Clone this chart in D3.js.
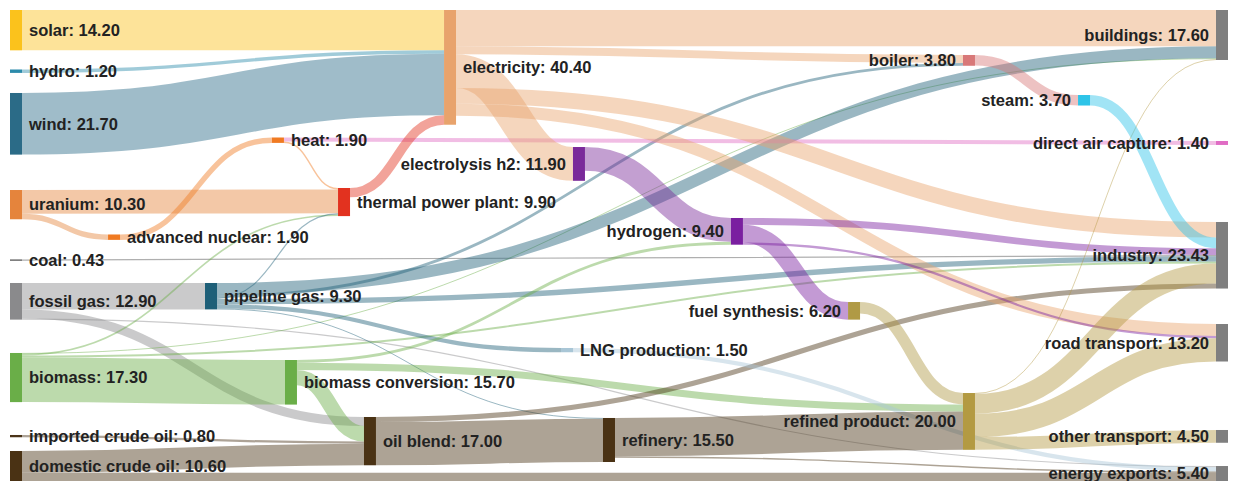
<!DOCTYPE html>
<html><head><meta charset="utf-8">
<script src="https://cdn.jsdelivr.net/npm/d3@7"></script>
<style>body{margin:0;background:#fff;} svg{display:block;}</style>
</head><body>
<svg id="chart" width="1233" height="481"></svg>
<script>
// ---------- data ----------
const nodeNames = ["solar","hydro","wind","uranium","coal","fossil gas","biomass","imported crude oil","domestic crude oil",
  "advanced nuclear","pipeline gas","heat","biomass conversion","thermal power plant","oil blend","electricity",
  "electrolysis h2","LNG production","refinery","hydrogen","fuel synthesis","boiler","refined product","steam",
  "buildings","direct air capture","industry","road transport","other transport","energy exports"];

const linkSource = ["solar","hydro","wind","uranium","uranium","coal","fossil gas","fossil gas","fossil gas",
  "biomass","biomass","biomass","biomass","imported crude oil","domestic crude oil","domestic crude oil",
  "advanced nuclear","pipeline gas","pipeline gas","pipeline gas","pipeline gas","pipeline gas","pipeline gas",
  "heat","heat","biomass conversion","biomass conversion","biomass conversion","thermal power plant",
  "oil blend","oil blend","electricity","electricity","electricity","electricity","electricity",
  "electrolysis h2","LNG production","refinery","refinery","hydrogen","hydrogen","hydrogen","fuel synthesis",
  "boiler","refined product","refined product","refined product","refined product","steam"];
const linkTarget = ["electricity","electricity","electricity","thermal power plant","advanced nuclear","industry",
  "pipeline gas","oil blend","energy exports",
  "biomass conversion","thermal power plant","buildings","industry","oil blend","oil blend","energy exports",
  "heat","buildings","boiler","thermal power plant","industry","LNG production","refinery",
  "direct air capture","thermal power plant","hydrogen","refined product","oil blend","electricity",
  "refinery","industry","buildings","boiler","electrolysis h2","industry","road transport",
  "hydrogen","energy exports","refined product","energy exports","industry","fuel synthesis","road transport","refined product",
  "steam","buildings","industry","road transport","other transport","industry"];
const linkValue = [14.2,1.2,21.7,8.4,1.9,0.43,9.3,3.2,0.4,
  15.7,0.6,0.3,0.7,0.8,7.6,3.0,
  1.9,4.2,1.0,0.4,1.9,1.5,0.3,
  1.4,0.5,1.0,2.5,5.4,3.3,
  15.2,1.8,12.8,2.8,11.9,5.5,4.2,
  8.4,1.5,13.5,0.5,2.4,6.2,0.8,4.0,
  3.7,0.3,7.0,8.2,4.5,3.7];

// ---------- layout (node placement, fractions of the plot area) ----------
const layoutX = [0,0,0,0,0,0,0,0,0,
  0.0813,0.1617,0.2172,0.2280,0.2720,0.2935,0.3599,
  0.4668,0.4569,0.4917,0.5978,0.6949,0.7902,0.7902,0.8856,
  1,1,1,1,1,1];
const layoutY = [0,0.1263,0.1762,0.3822,0.5297,0.5796,0.7282,0.9023,0.9363,
  0.4766,0.5796,0.2707,0.7431,0.3779,0.8641,0,
  0.2909,0.7176,0.8662,0.4416,0.6200,0.0955,0.8132,0.1805,
  0,0.2781,0.4501,0.6667,0.8917,0.9682];
const labelLeft = new Set(["electrolysis h2","hydrogen","fuel synthesis","boiler","refined product","steam",
  "buildings","direct air capture","industry","road transport","other transport","energy exports"]);

// ---------- styles ----------
const nodeColor = {
  "solar":"#fbc21c","hydro":"#2c8bab","wind":"#2b6b87","uranium":"#e5843c","coal":"#4d4d4d",
  "fossil gas":"#8a8a8c","biomass":"#6aae48","imported crude oil":"#4a3318","domestic crude oil":"#4a3214",
  "advanced nuclear":"#f07a22","pipeline gas":"#1e5f78","heat":"#f07a22","biomass conversion":"#6aae48",
  "thermal power plant":"#e2321f","oil blend":"#4a3214","electricity":"#e8a36c","electrolysis h2":"#7a2a9a",
  "LNG production":"#a9c6d6","refinery":"#4a3214","hydrogen":"#7a1fa0","fuel synthesis":"#b09a45",
  "boiler":"#d87878","refined product":"#b39a42","steam":"#2ec4e8",
  "buildings":"#7f7f7f","direct air capture":"#e06cc4","industry":"#7f7f7f","road transport":"#7f7f7f",
  "other transport":"#7f7f7f","energy exports":"#7f7f7f"
};
const linkColorFromTarget = new Set(["direct air capture"]);

// ---------- build ----------
const svg = d3.select("#chart");
const nodeW = 12;
const xS = d3.scaleLinear().domain([0,1]).range([10, 1216]);
const yS = d3.scaleLinear().domain([0,1]).range([10, 481]);
const vS = d3.scaleLinear().domain([0,1]).range([0, 2.84]);

const nodes = nodeNames.map((name,i)=>({name, i, sourceLinks:[], targetLinks:[]}));
const byName = new Map(nodes.map(n=>[n.name,n]));
const links = linkValue.map((value,i)=>{
  const l = {source:byName.get(linkSource[i]), target:byName.get(linkTarget[i]), value};
  l.source.sourceLinks.push(l); l.target.targetLinks.push(l);
  return l;
});
nodes.forEach(n=>{
  n.value = Math.max(d3.sum(n.sourceLinks,l=>l.value), d3.sum(n.targetLinks,l=>l.value));
  n.x0 = xS(layoutX[n.i]); n.x1 = n.x0 + nodeW;
  n.y0 = yS(layoutY[n.i]); n.y1 = n.y0 + vS(n.value);
});
nodes.forEach(n=>{
  n.sourceLinks.sort((a,b)=>a.target.y0-b.target.y0);
  let yy = n.y0;
  n.sourceLinks.forEach(l=>{ l.width = vS(l.value); l.y0 = yy + l.width/2; yy += l.width; });
  n.targetLinks.sort((a,b)=>a.source.y0-b.source.y0);
  yy = n.y0;
  n.targetLinks.forEach(l=>{ l.width = vS(l.value); l.y1 = yy + l.width/2; yy += l.width; });
});

const linkPath = d3.linkHorizontal().source(d=>[d.source.x1, d.y0]).target(d=>[d.target.x0, d.y1]);

svg.append("g").attr("fill","none")
  .selectAll("path").data(links).join("path")
  .attr("d", linkPath)
  .attr("stroke", d=> linkColorFromTarget.has(d.target.name) ? nodeColor[d.target.name] : nodeColor[d.source.name])
  .attr("stroke-opacity", 0.45)
  .attr("stroke-width", d=>Math.max(1, d.width));

svg.append("g").selectAll("rect").data(nodes).join("rect")
  .attr("x", d=>d.x0).attr("y", d=>d.y0)
  .attr("width", d=>d.x1-d.x0).attr("height", d=>Math.max(1, d.y1-d.y0))
  .attr("fill", d=>nodeColor[d.name]);

svg.append("g")
  .attr("font-family","'Liberation Sans', Arial, Helvetica, sans-serif")
  .attr("font-size", 16.5).attr("font-weight","bold").attr("fill","#222")
  .selectAll("text").data(nodes).join("text")
  .attr("x", d=> labelLeft.has(d.name) ? d.x0 - 7 : d.x1 + 7)
  .attr("y", d=> (d.y0+d.y1)/2)
  .attr("dy","0.35em")
  .attr("text-anchor", d=> labelLeft.has(d.name) ? "end" : "start")
  .text(d=> `${d.name}: ${d.value.toFixed(2)}`);
</script>
</body></html>
